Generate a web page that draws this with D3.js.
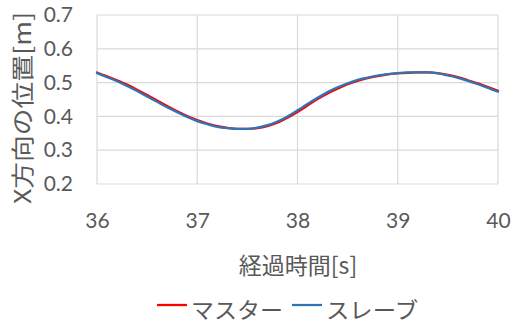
<!DOCTYPE html>
<html>
<head>
<meta charset="utf-8">
<script src="https://cdn.jsdelivr.net/npm/d3@7"></script>
<style>
  html, body { margin: 0; padding: 0; background: #fff; }
  svg { display: block; }
  text { font-family: "Noto Sans CJK JP", "Noto Sans", sans-serif; fill: #595959; }
</style>
</head>
<body>
<svg id="chart" width="513" height="325"></svg>
<script>
// Elapsed time [s], sampled every 0.1 s
const times = [36.0, 36.1, 36.2, 36.3, 36.4, 36.5, 36.6, 36.7, 36.8, 36.9,
               37.0, 37.1, 37.2, 37.3, 37.4, 37.5, 37.6, 37.7, 37.8, 37.9,
               38.0, 38.1, 38.2, 38.3, 38.4, 38.5, 38.6, 38.7, 38.8, 38.9,
               39.0, 39.1, 39.2, 39.3, 39.4, 39.5, 39.6, 39.7, 39.8, 39.9, 40.0];

// X position of the master arm [m]
const master = [0.530, 0.519, 0.507, 0.494, 0.479, 0.463, 0.447, 0.431, 0.415, 0.401,
                0.389, 0.379, 0.371, 0.366, 0.363, 0.363, 0.365, 0.371, 0.381, 0.396,
                0.413, 0.432, 0.451, 0.468, 0.482, 0.495, 0.505, 0.513, 0.519, 0.524,
                0.527, 0.529, 0.530, 0.530, 0.528, 0.523, 0.516, 0.507, 0.498, 0.487, 0.476];

// X position of the slave arm [m]
const slave = [0.528, 0.516, 0.504, 0.490, 0.475, 0.459, 0.443, 0.427, 0.412, 0.398,
               0.386, 0.377, 0.369, 0.365, 0.363, 0.363, 0.367, 0.374, 0.385, 0.400,
               0.418, 0.437, 0.455, 0.472, 0.486, 0.498, 0.508, 0.515, 0.521, 0.525,
               0.528, 0.530, 0.530, 0.530, 0.527, 0.521, 0.514, 0.505, 0.495, 0.484, 0.473];

const xTicks = [36, 37, 38, 39, 40];
const yTicks = [0.2, 0.3, 0.4, 0.5, 0.6, 0.7];

const seriesNames = ["マスター", "スレーブ"];
const seriesColors = ["#FF0000", "#2E75B6"];
const xTitle = "経過時間[s]";
const yTitle = "X方向の位置[m]";

const svg = d3.select("#chart");
const plot = { left: 97, right: 498, top: 15, bottom: 184 };

const x = d3.scaleLinear().domain([36, 40]).range([plot.left, plot.right]);
const y = d3.scaleLinear().domain([0.2, 0.7]).range([plot.bottom, plot.top]);

// Gridlines
const grid = svg.append("g");
grid.selectAll("line.h").data(yTicks).join("line")
  .attr("x1", plot.left).attr("x2", plot.right)
  .attr("y1", d => y(d)).attr("y2", d => y(d))
  .attr("stroke", "#D9D9D9").attr("stroke-width", 1.2);
grid.selectAll("line.v").data(xTicks).join("line")
  .attr("y1", plot.top).attr("y2", plot.bottom)
  .attr("x1", d => x(d)).attr("x2", d => x(d))
  .attr("stroke", "#D9D9D9").attr("stroke-width", 1.2);

// Axis tick labels
const tickFont = "Lato, 'Open Sans', sans-serif";
const yAxis = svg.append("g").attr("transform", `translate(${plot.left},0)`)
  .call(d3.axisLeft(y).tickValues(yTicks).tickFormat(d3.format(".1f")).tickSize(0).tickPadding(24));
yAxis.select(".domain").remove();
yAxis.selectAll("text").style("font-size", "21px").attr("fill", "#595959")
  .style("font-family", tickFont);

const xAxis = svg.append("g").attr("transform", `translate(0,${plot.bottom})`)
  .call(d3.axisBottom(x).tickValues(xTicks).tickFormat(d3.format("d")).tickSize(0).tickPadding(29));
xAxis.select(".domain").remove();
xAxis.selectAll("text").style("font-size", "21px").attr("fill", "#595959")
  .style("font-family", tickFont);

// Series lines
const line = d3.line()
  .x((d, i) => x(times[i]))
  .y(d => y(d))
  .curve(d3.curveMonotoneX);

[master, slave].forEach((vals, k) => {
  svg.append("path")
    .datum(vals)
    .attr("d", line)
    .attr("fill", "none")
    .attr("stroke", seriesColors[k])
    .attr("stroke-width", 2.25)
    .attr("stroke-linejoin", "round")
    .attr("stroke-linecap", "round");
});

// Axis titles
svg.append("text")
  .attr("x", 298).attr("y", 274)
  .attr("text-anchor", "middle")
  .style("font-size", "23px")
  .text(xTitle);

svg.append("text")
  .attr("transform", "translate(31,108) rotate(-90)")
  .attr("text-anchor", "middle")
  .attr("textLength", 192)
  .attr("lengthAdjust", "spacingAndGlyphs")
  .style("font-size", "23px")
  .text(yTitle);

// Legend
const legendItems = [
  { x1: 157, x2: 187, tx: 191 },
  { x1: 292, x2: 322, tx: 326 }
];
const legend = svg.append("g");
legendItems.forEach((it, k) => {
  legend.append("line")
    .attr("x1", it.x1).attr("x2", it.x2)
    .attr("y1", 305).attr("y2", 305)
    .attr("stroke", seriesColors[k]).attr("stroke-width", 2.25);
  legend.append("text")
    .attr("x", it.tx).attr("y", 318)
    .style("font-size", "22px")
    .attr("textLength", 92)
    .attr("lengthAdjust", "spacingAndGlyphs")
    .text(seriesNames[k]);
});
</script>
</body>
</html>
